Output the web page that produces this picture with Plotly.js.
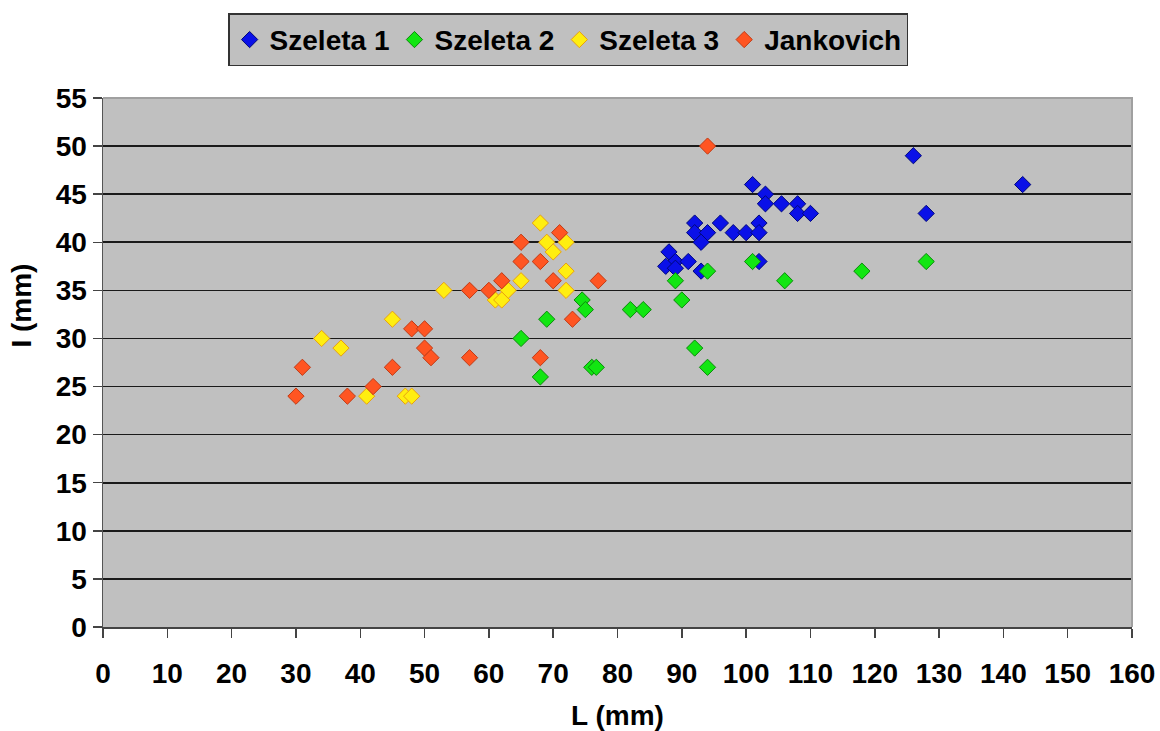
<!DOCTYPE html>
<html>
<head>
<meta charset="utf-8">
<script src="https://cdn.plot.ly/plotly-3.0.1.min.js"></script>
<style>html,body{margin:0;padding:0;background:#fff;}#chart{width:1160px;height:731px;}</style>
</head>
<body>
<div id="chart"></div>
<script>
// Szeleta 1
const s1L = [101, 103, 103, 105.5, 108, 108, 110, 92, 96, 102, 92, 94, 93, 98, 100, 102, 88, 89, 91, 87.5, 89, 93, 102, 126, 143, 128];
const s1I = [46, 45, 44, 44, 44, 43, 43, 42, 42, 42, 41, 41, 40, 41, 41, 41, 39, 38, 38, 37.5, 37.3, 37, 38, 49, 46, 43];
// Szeleta 2
const s2L = [89, 94, 101, 106, 118, 128, 74.5, 75, 82, 84, 90, 69, 65, 76, 76.7, 68, 92, 94];
const s2I = [36, 37, 38, 36, 37, 38, 34, 33, 33, 33, 34, 32, 30, 27, 27, 26, 29, 27];
// Szeleta 3
const s3L = [68, 69, 72, 70, 72, 65, 72, 53, 63, 61, 62, 45, 34, 37, 41, 47, 48];
const s3I = [42, 40, 40, 39, 37, 36, 35, 35, 35, 34, 34, 32, 30, 29, 24, 24, 24];
// Jankovich
const jL = [94, 71, 65, 65, 68, 62, 70, 77, 57, 60, 73, 48, 50, 50, 51, 57, 68, 31, 45, 42, 30, 38];
const jI = [50, 41, 40, 38, 38, 36, 36, 36, 35, 35, 32, 31, 31, 29, 28, 28, 28, 27, 27, 25, 24, 24];

const xTicks = [0,10,20,30,40,50,60,70,80,90,100,110,120,130,140,150,160];
const yTicks = [0,5,10,15,20,25,30,35,40,45,50,55];

function tr(name, x, y, fill, edge) {
  return {type:'scatter', mode:'markers', name:name, x:x, y:y,
    marker:{symbol:'diamond', size:12.5, color:fill, line:{color:edge, width:1}},
    cliponaxis:false};
}
const data = [
  tr('Szeleta 1', s1L, s1I, '#0a10e8', '#00087a'),
  tr('Szeleta 2', s2L, s2I, '#12e612', '#0a8a0a'),
  tr('Szeleta 3', s3L, s3I, '#ffee10', '#e8a010'),
  tr('Jankovich', jL, jI, '#ff5522', '#c03a14')
];
const F = 'Liberation Sans, Arial, sans-serif';
const FS = 28;
const layout = {
  width:1160, height:731,
  margin:{l:103, r:28, t:98, b:104},
  paper_bgcolor:'#ffffff', plot_bgcolor:'#c0c0c0',
  font:{family:F, size:FS, color:'#000'},
  showlegend:true,
  legend:{orientation:'h', x:0.452, xanchor:'center', y:1.16, yanchor:'top',
    bgcolor:'#c0c0c0', bordercolor:'#333', borderwidth:1.5,
    font:{family:F, size:FS, color:'#000', weight:'bold'}, itemwidth:30, tracegroupgap:0},
  xaxis:{range:[0,160], tickvals:xTicks, ticktext:xTicks.map(String),
    showgrid:false, zeroline:false, showline:true, linecolor:'#444', linewidth:2,
    ticks:'outside', ticklen:9, tickwidth:1.5, tickcolor:'#444', ticklabelstandoff:11,
    tickfont:{family:F, size:FS, weight:'bold'},
    title:{text:'L (mm)', font:{family:F, size:FS, weight:'bold'}, standoff:20}},
  yaxis:{range:[0,55], tickvals:yTicks, ticktext:yTicks.map(String),
    showgrid:true, gridcolor:'#1a1a1a', gridwidth:1.6, zeroline:false,
    showline:true, linecolor:'#555', linewidth:1.5,
    ticks:'outside', ticklen:9, tickwidth:1.5, tickcolor:'#444',
    tickfont:{family:F, size:FS, weight:'bold'}},
  annotations:[{text:'I (mm)', xref:'paper', yref:'paper', x:-0.079, y:0.607,
    xanchor:'center', yanchor:'middle', textangle:-90, showarrow:false,
    font:{family:F, size:FS, weight:'bold', color:'#000'}}],
  shapes:[{type:'path', xref:'paper', yref:'paper', path:'M 0 1 L 1 1 L 1 0',
    line:{color:'#a0a0a0', width:2}, layer:'above'}]
};
Plotly.newPlot('chart', data, layout, {displayModeBar:false, staticPlot:true});
</script>
</body>
</html>
